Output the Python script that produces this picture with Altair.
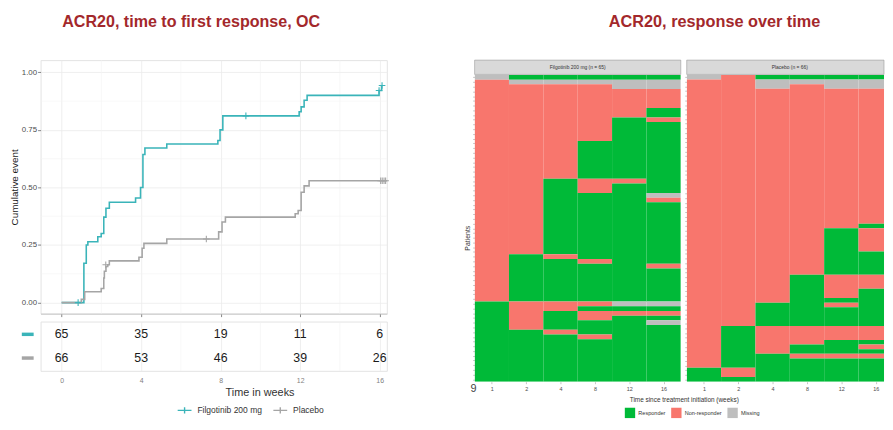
import altair as alt
import pandas as pd

FONT = "Liberation Sans"
TITLE_RED = "#A3282B"
TEAL = "#3AB4B9"
GREY = "#A5A5A5"

# ---------------- Kaplan-Meier (cumulative event) ----------------
groups = ["Filgotinib 200 mg", "Placebo"]

teal_t = [0.0, 1.12, 1.24, 1.32, 1.82, 1.99, 2.12, 2.23, 2.40, 3.72, 3.97, 4.09,
          4.19, 5.29, 7.86, 7.97, 8.11, 11.95, 12.05, 12.20, 12.35, 15.97, 16.10]
teal_v = [0.0, 0.171, 0.250, 0.264, 0.286, 0.300, 0.371, 0.410, 0.436, 0.454, 0.500, 0.643,
          0.671, 0.689, 0.704, 0.750, 0.811, 0.829, 0.850, 0.879, 0.900, 0.921, 0.943]
grey_t = [0.0, 0.99, 1.16, 1.99, 2.12, 2.15, 2.23, 2.32, 2.40, 3.89, 4.05, 4.14,
          5.29, 7.90, 8.07, 8.24, 11.75, 11.90, 12.05, 12.20, 12.45, 16.36]
grey_v = [0.0, 0.014, 0.047, 0.061, 0.107, 0.136, 0.157, 0.164, 0.181, 0.197, 0.236, 0.257,
          0.276, 0.307, 0.350, 0.371, 0.386, 0.400, 0.479, 0.507, 0.529, 0.529]

teal_cens_t = [0.83, 9.27, 15.97, 16.12]
teal_cens_v = [0.0, 0.811, 0.921, 0.943]
grey_cens_t = [2.22, 7.28, 16.05, 16.13, 16.22, 16.30]
grey_cens_v = [0.164, 0.276, 0.529, 0.529, 0.529, 0.529]

risk_times = [0, 4, 8, 12, 16]
risk_filgo = [65, 35, 19, 11, 6]
risk_placebo = [66, 53, 46, 39, 26]

x_major = [0, 4, 8, 12, 16]
x_minor = [2, 6, 10, 14]
y_major = [0, 0.25, 0.5, 0.75, 1.0]
y_minor = [0.125, 0.375, 0.625, 0.875]

# ---------------- Heatmap (response over time) ----------------
weeks = ["1", "2", "4", "8", "12", "16"]
status_names = {"R": "Responder", "N": "Non-responder", "M": "Missing"}
status_order = ["Responder", "Non-responder", "Missing"]
status_colors = ["#00BA38", "#F8766D", "#BEBEBE"]

# (pattern over weeks 1,2,4,8,12,16 ; number of patients), top to bottom
filgo_blocks = [("MRRRRR", 1), ("NMMMMM", 1), ("NNNNMM", 1), ("NNNNNN", 4), ("NNNNNR", 2),
                ("NNNNRN", 1), ("NNNNRR", 4), ("NNNRRR", 8), ("NNRNNR", 1), ("NNRNRR", 2),
                ("NNRRRM", 1), ("NNRRRN", 1), ("NNRRRR", 11), ("NRNRRR", 1), ("NRRNRR", 1),
                ("NRRRRN", 1), ("NRRRRR", 7), ("RNNNMM", 1), ("RNNRRR", 1), ("RNRNNN", 1),
                ("RNRNRR", 1), ("RNRRRM", 1), ("RNRRRR", 1), ("RRNRRR", 1), ("RRRNRR", 1),
                ("RRRRRR", 9)]
placebo_blocks = [("MNRRRR", 1), ("NNMMMM", 1), ("NNMNMM", 1), ("NNNNNN", 29), ("NNNNNR", 1),
                  ("NNNNRN", 5), ("NNNNRR", 5), ("NNNRNN", 3), ("NNNRNR", 2), ("NNNRRR", 1),
                  ("NNRRNR", 1), ("NNRRRR", 4), ("NRNNNN", 3), ("NRNNRR", 1), ("NRNRRN", 1),
                  ("NRNRRR", 1), ("NRRNNN", 1), ("NRRRRR", 2), ("RNRRRR", 2), ("RRRRRR", 1)]
stray_label = "9"

# ================= KM chart =================
xs = alt.Scale(domain=[-1.06, 16.36], nice=False, zero=False)
ys = alt.Scale(domain=[-0.048, 1.053], nice=False, zero=False)
col_scale = alt.Scale(domain=groups, range=[TEAL, GREY])

PLUS = "M-1,0L1,0M0,-1L0,1"
LEG_SYM = "M-1,0L1,0M0,-0.45L0,0.45"

km_df = pd.DataFrame({
    "group": [groups[0]] * len(teal_t) + [groups[1]] * len(grey_t),
    "t": teal_t + grey_t,
    "v": teal_v + grey_v,
})
cens_df = pd.DataFrame({
    "group": [groups[0]] * len(teal_cens_t) + [groups[1]] * len(grey_cens_t),
    "t": teal_cens_t + grey_cens_t,
    "v": teal_cens_v + grey_cens_v,
})

km_xaxis = alt.Axis(values=x_major, labels=False, tickSize=3, tickColor="#333333", tickWidth=0.6,
                    grid=True, gridColor="#EBEBEB", gridWidth=0.8, domain=True,
                    domainColor="#BDBDBD", domainWidth=0.8, title=None)
km_yaxis = alt.Axis(values=y_major, format=".2f", labelFontSize=8, labelColor="#4D4D4D",
                    labelPadding=1, tickSize=3, tickColor="#333333", tickWidth=0.6,
                    grid=True, gridColor="#EBEBEB", gridWidth=0.8, domain=False,
                    title="Cumulative event", titleFontSize=10, titleFontWeight="normal",
                    titleColor="#1A1A1A", titlePadding=2)

grid_x = alt.Chart(pd.DataFrame({"t": x_minor})).mark_rule(color="#F3F3F3", strokeWidth=0.6).encode(
    x=alt.X("t:Q", scale=xs, axis=km_xaxis))
grid_y = alt.Chart(pd.DataFrame({"v": y_minor})).mark_rule(color="#F3F3F3", strokeWidth=0.6).encode(
    y=alt.Y("v:Q", scale=ys, axis=km_yaxis))

km_lines = alt.Chart(km_df).mark_line(interpolate="step-after", strokeWidth=1.6, clip=True).encode(
    x=alt.X("t:Q", scale=xs, axis=km_xaxis),
    y=alt.Y("v:Q", scale=ys, axis=km_yaxis),
    color=alt.Color("group:N", scale=col_scale, legend=alt.Legend(
        orient="none", legendX=138, legendY=347, direction="horizontal", title=None,
        symbolType=LEG_SYM, symbolSize=196, symbolStrokeWidth=1.4, labelFontSize=8.6,
        labelColor="#333333", columnPadding=8, labelOffset=5, labelLimit=200)),
)
km_cens = alt.Chart(cens_df).mark_point(shape=PLUS, filled=False, size=45, strokeWidth=1.1,
                                        opacity=1).encode(
    x=alt.X("t:Q", scale=xs, axis=km_xaxis),
    y=alt.Y("v:Q", scale=ys, axis=km_yaxis),
    color=alt.Color("group:N", scale=col_scale, legend=None),
)

km = alt.layer(grid_x, grid_y, km_lines, km_cens).properties(
    width=351, height=257,
    view=alt.ViewBackground(stroke="#E3E3E3"),
    title=alt.TitleParams("ACR20, time to first response, OC", anchor="start", frame="group",
                          dx=22, offset=30, fontSize=16.3, fontWeight="bold", color=TITLE_RED),
)

# ================= risk table =================
risk_df = pd.DataFrame({
    "group": [groups[0]] * len(risk_times) + [groups[1]] * len(risk_times),
    "t": risk_times + risk_times,
    "n": risk_filgo + risk_placebo,
})
rs_y = alt.Scale(domain=groups, type="point", padding=0.54)
risk_xaxis = alt.Axis(values=x_major, labelFontSize=7, labelColor="#7F7F7F", tickSize=0,
                      labelPadding=6, domain=False, grid=True, gridColor="#EBEBEB", gridWidth=0.8,
                      title="Time in weeks", titleFontSize=11, titleFontWeight="normal",
                      titleColor="#333333", titleX=222, titleY=22, titleBaseline="middle")
risk_grid = alt.Chart(pd.DataFrame({"t": x_minor})).mark_rule(color="#F3F3F3", strokeWidth=0.6).encode(
    x=alt.X("t:Q", scale=xs, axis=risk_xaxis))
risk_text = alt.Chart(risk_df).mark_text(fontSize=12.5, color="#1A1A1A").encode(
    x=alt.X("t:Q", scale=xs, axis=risk_xaxis),
    y=alt.Y("group:N", scale=rs_y, axis=None),
    text="n:Q",
)
risk_keys = alt.Chart(pd.DataFrame({"group": groups})).mark_rule(strokeWidth=3.5).encode(
    x=alt.value(-19), x2=alt.value(-7),
    y=alt.Y("group:N", scale=rs_y, axis=None),
    color=alt.Color("group:N", scale=col_scale, legend=None),
)
risk = alt.layer(risk_grid, risk_text, risk_keys).properties(
    width=351, height=50, view=alt.ViewBackground(stroke="#E3E3E3"))

left = alt.vconcat(km, risk, spacing=8, bounds="flush")

# ================= heatmap panels =================
COLW = 209 / 6
STRIP = 15
CELLS_H = 311
LABEL_EXPR = "[" + ",".join("'%s'" % w for w in weeks) + "][floor(datum.value)]"


def heat_cells(blocks):
    rows = []
    for pat, cnt in blocks:
        rows += [pat] * cnt
    n = len(rows)
    recs = []
    for j in range(len(weeks)):
        start = 0
        for k in range(1, n + 1):
            if k == n or rows[k][j] != rows[start][j]:
                recs.append(dict(c0=j, c1=j + 1, r0=start, r1=k,
                                 status=status_names[rows[start][j]]))
                start = k
    return pd.DataFrame(recs), n


def heat_panel(blocks, strip_label, width, first):
    df, n = heat_cells(blocks)
    s = n * STRIP / CELLS_H
    xscale = alt.Scale(domain=[0, width / COLW], nice=False, zero=False)
    yscale = alt.Scale(domain=[-s, n], reverse=True, nice=False, zero=False)
    xaxis = alt.Axis(values=[j + 0.5 for j in range(len(weeks))], labelExpr=LABEL_EXPR,
                     labelFontSize=5.5, labelColor="#4D4D4D", labelPadding=3, tickSize=2,
                     tickColor="#888888", tickWidth=0.5, domain=False, grid=False,
                     title="Time since treatment initiation (weeks)" if first else None,
                     titleFontSize=6.5, titleFontWeight="normal", titleColor="#333333",
                     titleX=212, titleY=18, titleBaseline="middle")
    yaxis = alt.Axis(values=[k + 0.5 for k in range(n)], labels=False, tickSize=2,
                     tickColor="#888888", tickWidth=0.5, domain=False, grid=False,
                     title="Patients" if first else None, titleFontSize=7,
                     titleFontWeight="normal", titleColor="#333333", titlePadding=2,
                     titleY=180)
    legend = alt.Legend(orient="none", legendX=152, legendY=352, direction="horizontal",
                        title=None, symbolType="square", symbolSize=110, symbolStrokeWidth=0,
                        symbolOpacity=1, labelFontSize=5.6, labelColor="#333333",
                        columnPadding=5, labelOffset=3) if first else None
    cells = alt.Chart(df).mark_rect(clip=True).encode(
        x=alt.X("c0:Q", scale=xscale, axis=xaxis), x2="c1:Q",
        y=alt.Y("r0:Q", scale=yscale, axis=yaxis), y2="r1:Q",
        color=alt.Color("status:N", scale=alt.Scale(domain=status_order, range=status_colors),
                        legend=legend),
    )
    lab = pd.DataFrame({"label": [strip_label]})
    strip = alt.Chart(lab).mark_rect(fill="#D9D9D9", stroke="#9A9A9A", strokeWidth=0.6).encode(
        x=alt.value(0), x2=alt.value(width), y=alt.value(0), y2=alt.value(STRIP - 0.5))
    strip_text = alt.Chart(lab).mark_text(fontSize=5, color="#333333").encode(
        x=alt.value(COLW * 3), y=alt.value(STRIP / 2), text="label:N")
    layers = [cells, strip, strip_text]
    props = dict(width=width, height=CELLS_H + STRIP, view=alt.ViewBackground(stroke=None))
    if first:
        stray = alt.Chart(pd.DataFrame({"label": [stray_label]})).mark_text(
            fontSize=11, color="#444444").encode(
            x=alt.value(-1), y=alt.value(CELLS_H + STRIP + 7), text="label:N")
        layers.append(stray)
        props["title"] = alt.TitleParams("ACR20, response over time", anchor="start", frame="group",
                                         dx=136, offset=30, fontSize=16.5, fontWeight="bold",
                                         color=TITLE_RED)
    return alt.layer(*layers).properties(**props)


heat1 = heat_panel(filgo_blocks, "Filgotinib 200 mg (n = 65)", 209, True)
heat2 = heat_panel(placebo_blocks, "Placebo (n = 66)", 200, False)
right = alt.hconcat(heat1, heat2, spacing=6, bounds="flush")

chart = alt.hconcat(left, right, spacing=72).resolve_scale(color="independent").properties(
    padding={"left": 0, "top": 2, "right": 0, "bottom": 0}, background="white"
).configure(font=FONT)

chart.save("out.html", embed_options={"renderer": "svg", "actions": False})
